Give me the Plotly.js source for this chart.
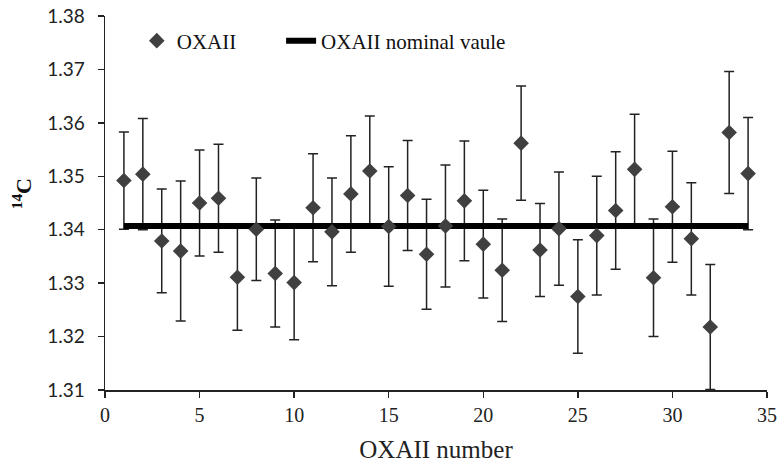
<!DOCTYPE html>
<html>
<head>
<meta charset="utf-8">
<script src="https://cdn.plot.ly/plotly-3.0.1.min.js"></script>
<style>html,body{margin:0;padding:0;background:#fff;}#chart{width:780px;height:464px;}</style>
</head>
<body>
<div id="chart"></div>
<script>
const sampleNumbers = [1,2,3,4,5,6,7,8,9,10,11,12,13,14,15,16,17,18,19,20,21,22,23,24,25,26,27,28,29,30,31,32,33,34];
const oxaiiValues = [1.3492,1.3504,1.3379,1.3360,1.3450,1.3459,1.3311,1.3401,1.3318,1.3301,1.3441,1.3396,1.3467,1.3510,1.3406,1.3464,1.3354,1.3407,1.3454,1.3373,1.3324,1.3562,1.3362,1.3402,1.3275,1.3389,1.3436,1.3513,1.3310,1.3443,1.3383,1.3218,1.3582,1.3505];
const oxaiiErrors = [0.0091,0.0104,0.0097,0.0131,0.0099,0.0101,0.0099,0.0096,0.0100,0.0107,0.0101,0.0101,0.0109,0.0103,0.0112,0.0103,0.0103,0.0114,0.0112,0.0101,0.0096,0.0107,0.0087,0.0106,0.0106,0.0111,0.0110,0.0103,0.0110,0.0104,0.0105,0.0117,0.0114,0.0105];
const nominalX = [1, 34];
const nominalValue = 1.3407;
const xTicks = [0,5,10,15,20,25,30,35];
const yTicks = [1.31,1.32,1.33,1.34,1.35,1.36,1.37,1.38];

const serif = '"Liberation Serif", "Times New Roman", serif';
const sans = 'Lato, "Noto Sans", sans-serif';

const traces = [
  {
    x: sampleNumbers, y: oxaiiValues, type: 'scatter', mode: 'markers',
    marker: {size: 1, color: 'rgba(0,0,0,0)'},
    error_y: {type: 'data', array: oxaiiErrors, visible: true, color: '#222', thickness: 1.5, width: 5},
    showlegend: false, hoverinfo: 'skip'
  },
  {
    x: nominalX, y: nominalX.map(() => nominalValue), type: 'scatter', mode: 'lines',
    name: 'OXAII nominal vaule', line: {color: '#000', width: 6}, legend: 'legend2'
  },
  {
    x: sampleNumbers, y: oxaiiValues, type: 'scatter', mode: 'markers',
    name: 'OXAII', marker: {symbol: 'diamond', size: 12, color: '#404040', line: {width: 0}},
    legend: 'legend'
  }
];

const legendBase = {
  orientation: 'h', y: 0.988, xanchor: 'left', yanchor: 'top',
  font: {family: serif, size: 21, color: '#111'},
  bgcolor: 'rgba(0,0,0,0)', itemwidth: 30
};

const layout = {
  width: 780, height: 464,
  margin: {l: 105, r: 13, t: 16, b: 74},
  paper_bgcolor: '#fff', plot_bgcolor: '#fff',
  showlegend: true,
  legend: Object.assign({}, legendBase, {x: 0.048}),
  legend2: Object.assign({}, legendBase, {x: 0.266}),
  xaxis: {
    range: [0, 35], tickvals: xTicks, ticktext: xTicks.map(String),
    showgrid: false, zeroline: false, showline: true, linecolor: '#222', linewidth: 1.5,
    ticks: 'outside', ticklen: 6, tickcolor: '#222', tickwidth: 1.5,
    tickfont: {family: serif, size: 20, color: '#222'},
    title: {text: 'OXAII number', font: {family: serif, size: 25, color: '#222'}, standoff: 16}
  },
  yaxis: {
    range: [1.31, 1.38], tickvals: yTicks, ticktext: yTicks.map(v => v.toFixed(2)),
    showgrid: false, zeroline: false, showline: true, linecolor: '#222', linewidth: 1.5,
    ticks: 'outside', ticklen: 6, tickcolor: '#222', tickwidth: 1.5, ticklabelstandoff: 9,
    tickfont: {family: sans, size: 19, color: '#222'}
  },
  annotations: [{
    text: '<b><sup>14</sup>C</b>', xref: 'paper', yref: 'paper',
    x: -0.125, y: 0.524, xanchor: 'center', yanchor: 'middle', textangle: -90,
    showarrow: false, font: {family: serif, size: 22, color: '#111'}
  }]
};

Plotly.newPlot('chart', traces, layout, {displayModeBar: false, staticPlot: true});
</script>
</body>
</html>
